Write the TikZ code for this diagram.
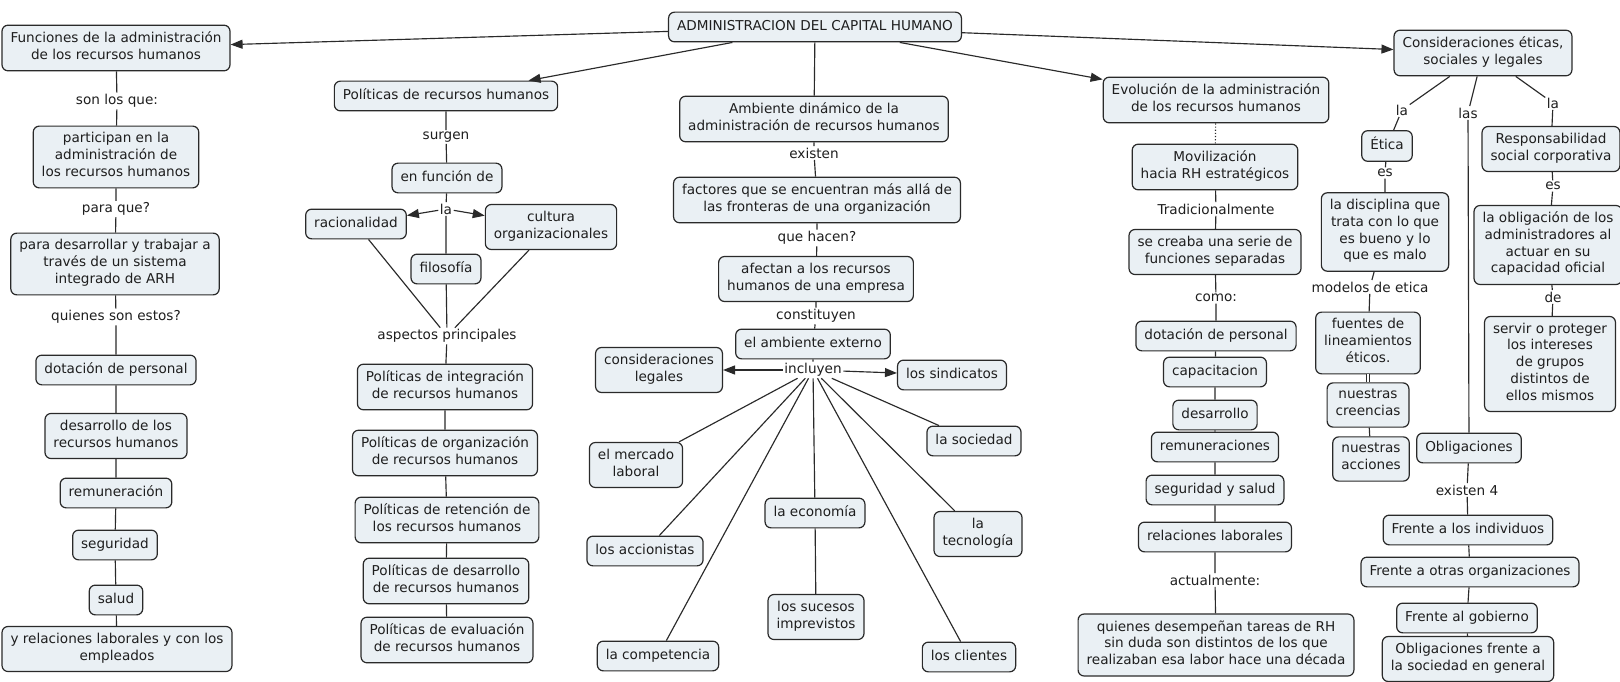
\documentclass[tikz,border=0pt]{standalone}
\usepackage{fontspec}
\setmainfont{DejaVu Sans}
\usetikzlibrary{arrows.meta}
\definecolor{boxfill}{HTML}{EAF0F4}
\definecolor{ink}{HTML}{1E1E1E}
\definecolor{edge}{HTML}{2A2A2A}
\begin{document}
\begin{tikzpicture}[x=1pt,y=-1pt,
  box/.style={draw=edge, line width=1.2pt, rounded corners=6pt, fill=boxfill,
    inner xsep=8.5pt, inner ysep=6.5pt, align=center, text=ink,
    font=\fontsize{13.6}{16.7}\selectfont,
    execute at begin node=\strut, execute at end node=\strut},
  lbl/.style={inner sep=1.5pt, align=center, text=ink,
    font=\fontsize{13.6}{16.7}\selectfont},
  con/.style={draw=edge, line width=1.15pt},
  arr/.style={con, -{Triangle[length=12pt,width=9pt]}},
]
\fill[white] (0,0) rectangle (1620,682);
\useasboundingbox (0,0) rectangle (1620,682);

% ---------- root ----------
\node[box] (root) at (815,27) {ADMINISTRACION DEL CAPITAL HUMANO};

% ---------- Funciones column ----------
\node[box] (fun) at (116,48) {Funciones de la administración\\de los recursos humanos};
\node[lbl] (lson) at (117,101) {son los que:};
\node[box] (part) at (116,157) {participan en la\\administración de\\los recursos humanos};
\node[lbl] (lpara) at (116,209) {para que?};
\node[box] (desar) at (115,264) {para desarrollar y trabajar a\\través de un sistema\\integrado de ARH};
\node[lbl] (lquien) at (116,317) {quienes son estos?};
\node[box] (dot1) at (116,370) {dotación de personal};
\node[box] (dev1) at (116,436) {desarrollo de los\\recursos humanos};
\node[box] (rem1) at (116,493) {remuneración};
\node[box] (seg1) at (115,545) {seguridad};
\node[box] (sal1) at (116,600) {salud};
\node[box] (rel1) at (117,649) {y relaciones laborales y con los\\empleados};

% ---------- Politicas column ----------
\node[box] (pol) at (446,96) {Políticas de recursos humanos};
\node[lbl] (lsurgen) at (446,137) {surgen};
\node[box] (enf) at (447,178) {en función de};
\node[lbl] (lla1) at (446,209) {la};
\node[box] (rac) at (356,224) {racionalidad};
\node[box] (cul) at (551,227) {cultura\\organizacionales};
\node[box] (fil) at (446,269) {filosofía};
\node[lbl] (lasp) at (447,336) {aspectos principales};
\node[box] (pint) at (445,387) {Políticas de integración\\de recursos humanos};
\node[box] (porg) at (445,453) {Políticas de organización\\de recursos humanos};
\node[box] (pret) at (447,520) {Políticas de retención de\\los recursos humanos};
\node[box] (pdes) at (446,581) {Políticas de desarrollo\\de recursos humanos};
\node[box] (peva) at (447,640) {Políticas de evaluación\\de recursos humanos};

% ---------- Ambiente column ----------
\node[box] (amb) at (814,119) {Ambiente dinámico de la\\administración de recursos humanos};
\node[lbl] (lexist) at (814,153) {existen};
\node[box] (fac) at (817,200) {factores que se encuentran más allá de\\las fronteras de una organización};
\node[lbl] (lhacen) at (817,238) {que hacen?};
\node[box] (afe) at (816,279) {afectan a los recursos\\humanos de una empresa};
\node[lbl] (lconst) at (816,316) {constituyen};
\node[box] (ext) at (813,344) {el ambiente externo};
\node[lbl] (lincl) at (813,370) {incluyen};
\node[box] (leg) at (659,370) {consideraciones\\legales};
\node[box] (sind) at (952,375) {los sindicatos};
\node[box] (soc) at (974,441) {la sociedad};
\node[box] (merc) at (636,465) {el mercado\\laboral};
\node[box] (eco) at (815,513) {la economía};
\node[box] (tec) at (978,534) {la\\tecnología};
\node[box] (acc) at (645,551) {los accionistas};
\node[box] (suc) at (816,617) {los sucesos\\imprevistos};
\node[box] (comp) at (658,656) {la competencia};
\node[box] (cli) at (969,657) {los clientes};

% ---------- Evolucion column ----------
\node[box] (evo) at (1216,100) {Evolución de la administración\\de los recursos humanos};
\node[box] (mov) at (1215,167) {Movilización\\hacia RH estratégicos};
\node[lbl] (ltrad) at (1216,209) {Tradicionalmente};
\node[box] (crea) at (1215,252) {se creaba una serie de\\funciones separadas};
\node[lbl] (lcomo) at (1216,298) {como:};
\node[box] (dot2) at (1216,336) {dotación de personal};
\node[box] (cap) at (1215,372) {capacitacion};
\node[box] (dev2) at (1215,415) {desarrollo};
\node[box] (rem2) at (1215,447) {remuneraciones};
\node[box] (seg2) at (1215,490) {seguridad y salud};
\node[box] (rel2) at (1215,537) {relaciones laborales};
\node[lbl] (lactual) at (1215,580) {actualmente:};
\node[box] (qui) at (1216,645) {quienes desempeñan tareas de RH\\sin duda son distintos de los que\\realizaban esa labor hace una década};

% ---------- Consideraciones ----------
\node[box] (cons) at (1483,53) {Consideraciones éticas,\\sociales y legales};
\node[lbl] (lla2) at (1402,110) {la};
\node[box] (eti) at (1387,146) {Ética};
\node[lbl] (les1) at (1385,173) {es};
\node[box] (dis) at (1385,232) {la disciplina que\\trata con lo que\\es bueno y lo\\que es malo};
\node[lbl] (lmod) at (1370,287) {modelos de etica};
\node[box] (fue) at (1368,343) {fuentes de\\lineamientos\\éticos.};
\node[box] (cre) at (1368,405) {nuestras\\creencias};
\node[box] (acc2) at (1371,459) {nuestras\\acciones};
\node[lbl] (llas) at (1468,113) {las};
\node[box] (obl) at (1469,448) {Obligaciones};
\node[lbl] (lex4) at (1467,490) {existen 4};
\node[box] (ind) at (1468,530) {Frente a los individuos};
\node[box] (otr) at (1470,572) {Frente a otras organizaciones};
\node[box] (gob) at (1467,618) {Frente al gobierno};
\node[box] (socg) at (1468,659) {Obligaciones frente a\\la sociedad en general};
\node[lbl] (lla3) at (1553,103) {la};
\node[box] (rsc) at (1551,149) {Responsabilidad\\social corporativa};
\node[lbl] (les2) at (1553,186) {es};
\node[box] (oblig) at (1548,245) {la obligación de los\\administradores al\\actuar en su\\capacidad oficial};
\node[lbl] (lde) at (1553,297) {de};
\node[box] (serv) at (1550,364) {servir o proteger\\los intereses\\de grupos\\distintos de\\ellos mismos};

% ---------- connectors ----------
\draw[arr] (root) -- (fun);
\draw[arr] (root) -- (pol);
\draw[con] (root) -- (amb);
\draw[arr] (root) -- (evo);
\draw[arr] (root) -- (cons);

\draw[con] (fun) -- (lson) -- (part) -- (lpara) -- (desar) -- (lquien) -- (dot1)
  -- (dev1) -- (rem1) -- (seg1) -- (sal1) -- (rel1);

\draw[con] (pol) -- (lsurgen) -- (enf) -- (lla1) -- (fil);
\draw[arr] (lla1) -- (rac);
\draw[arr] (lla1) -- (cul);
\draw[con] (rac) -- (lasp);
\draw[con] (fil) -- (lasp);
\draw[con] (cul) -- (lasp);
\draw[con] (lasp) -- (pint) -- (porg) -- (pret) -- (pdes) -- (peva);

\draw[con] (amb) -- (lexist) -- (fac) -- (lhacen) -- (afe) -- (lconst) -- (ext) -- (lincl);
\draw[arr] (lincl) -- (leg);
\draw[arr] (lincl) -- (sind);
\foreach \t in {merc,acc,comp,eco,cli,tec,soc}
  \draw[con] (lincl) -- (\t);
\draw[con] (eco) -- (suc);

\draw[con, dotted] (evo) -- (mov);
\draw[con] (mov) -- (ltrad) -- (crea) -- (lcomo) -- (dot2) -- (cap) -- (dev2)
  -- (rem2) -- (seg2) -- (rel2) -- (lactual) -- (qui);

\draw[con] (cons) -- (lla2) -- (eti) -- (les1) -- (dis) -- (lmod) -- (fue);
\draw[draw=edge, line width=0.9pt, double=white, double distance=1.4pt] (fue) -- (cre);
\draw[con] (cre) -- (acc2);
\draw[con] (cons) -- (llas) -- (obl) -- (lex4) -- (ind) -- (otr) -- (gob) -- (socg);
\draw[con] (cons) -- (lla3) -- (rsc) -- (les2) -- (oblig) -- (lde) -- (serv);
\end{tikzpicture}
\end{document}
